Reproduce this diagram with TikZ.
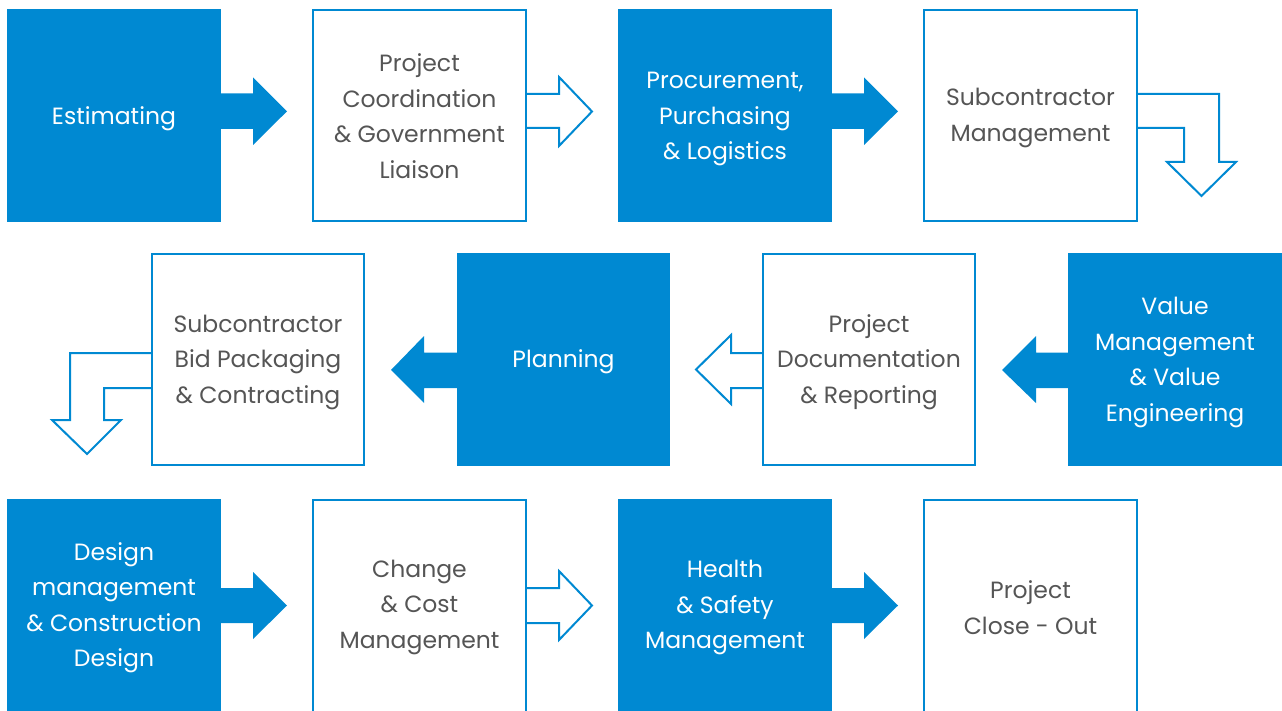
\documentclass[tikz,border=0pt]{standalone}
\usepackage{fontspec}
\setmainfont{Poppins}
\definecolor{blu}{HTML}{0089D2}
\definecolor{txt}{HTML}{555555}
\begin{document}
\begin{tikzpicture}[x=1pt,y=-1pt,
  fbox/.style={fill=blu,draw=none,text=white},
  obox/.style={draw=blu,line width=2pt,fill=white,text=txt},
  lbl/.style={align=center,font=\fontsize{23.5}{35.5}\selectfont},
  farrow/.style={fill=blu,draw=none},
  oarrow/.style={draw=blu,line width=2pt,line join=miter,fill=none}]
\useasboundingbox (0,0) rectangle (1282,711);
% row 1
\fill[blu] (7,9) rectangle (221,222);
\node[lbl,text=white] (b1) at (114,118.5) {Estimating};
\draw[obox] (313,10) rectangle (526,221);
\node[lbl,text=txt] (b2) at (419.5,116.3) {Project\\Coordination\\\& Government\\Liaison};
\fill[blu] (618,9) rectangle (832,222);
\node[lbl,text=white] (b3) at (725,119) {Procurement,\\Purchasing\\\& Logistics};
\draw[obox] (924,10) rectangle (1137,221);
\node[lbl,text=txt] (b4) at (1030.5,118) {Subcontractor\\Management};
% row 2
\draw[obox] (152,254) rectangle (364,465);
\node[lbl,text=txt] (b5) at (258,362) {Subcontractor\\Bid Packaging\\\& Contracting};
\fill[blu] (457,253) rectangle (670,466);
\node[lbl,text=white] (b6) at (563.5,362) {Planning};
\draw[obox] (763,254) rectangle (975,465);
\node[lbl,text=txt] (b7) at (869,362) {Project\\Documentation\\\& Reporting};
\fill[blu] (1068,253) rectangle (1282,466);
\node[lbl,text=white] (b8) at (1175,362.5) {Value\\Management\\\& Value\\Engineering};
% row 3
\fill[blu] (7,499) rectangle (221,711);
\node[lbl,text=white] (b9) at (114,607.5) {Design\\management\\\& Construction\\Design};
\draw[obox] (313,500) rectangle (526,712);
\node[lbl,text=txt] (b10) at (419.5,607) {Change\\\& Cost\\Management};
\fill[blu] (618,499) rectangle (832,711);
\node[lbl,text=white] (b11) at (725,607.5) {Health\\\& Safety\\Management};
\draw[obox] (924,500) rectangle (1137,712);
\node[lbl,text=txt] (b12) at (1030.5,607.5) {Project\\Close - Out};
% arrows row 1
\fill[farrow] (221,93.5) -- (253,93.5) -- (253,77.5) -- (287,111.3) -- (253,145) -- (253,129) -- (221,129) -- cycle;
\draw[oarrow] (527,94) -- (559,94) -- (559,77) -- (592,111.5) -- (559,146) -- (559,128) -- (527,128);
\fill[farrow] (832,93.5) -- (864,93.5) -- (864,77.5) -- (898,111.3) -- (864,145) -- (864,129) -- (832,129) -- cycle;
\draw[oarrow] (1138,94) -- (1219,94) -- (1219,162) -- (1236,162) -- (1201.5,196) -- (1167,162) -- (1184,162) -- (1184,128) -- (1138,128);
% arrows row 2
\draw[oarrow] (151,353) -- (70,353) -- (70,420) -- (52,420) -- (87,454) -- (121,420) -- (104,420) -- (104,388) -- (151,388);
\fill[farrow] (457,352.5) -- (424,352.5) -- (424,336) -- (391,370) -- (424,403) -- (424,388) -- (457,388) -- cycle;
\draw[oarrow] (762,353) -- (731,353) -- (731,335) -- (696,369.5) -- (731,404) -- (731,388) -- (762,388);
\fill[farrow] (1068,352.5) -- (1036,352.5) -- (1036,336) -- (1002,370) -- (1036,403) -- (1036,388) -- (1068,388) -- cycle;
% arrows row 3
\fill[farrow] (221,588) -- (253,588) -- (253,572) -- (287,605.5) -- (253,639) -- (253,623) -- (221,623) -- cycle;
\draw[oarrow] (527,588) -- (559,588) -- (559,571) -- (592,605.5) -- (559,640) -- (559,623) -- (527,623);
\fill[farrow] (832,588) -- (864,588) -- (864,572) -- (898,605.5) -- (864,639) -- (864,623) -- (832,623) -- cycle;
\end{tikzpicture}
\end{document}
